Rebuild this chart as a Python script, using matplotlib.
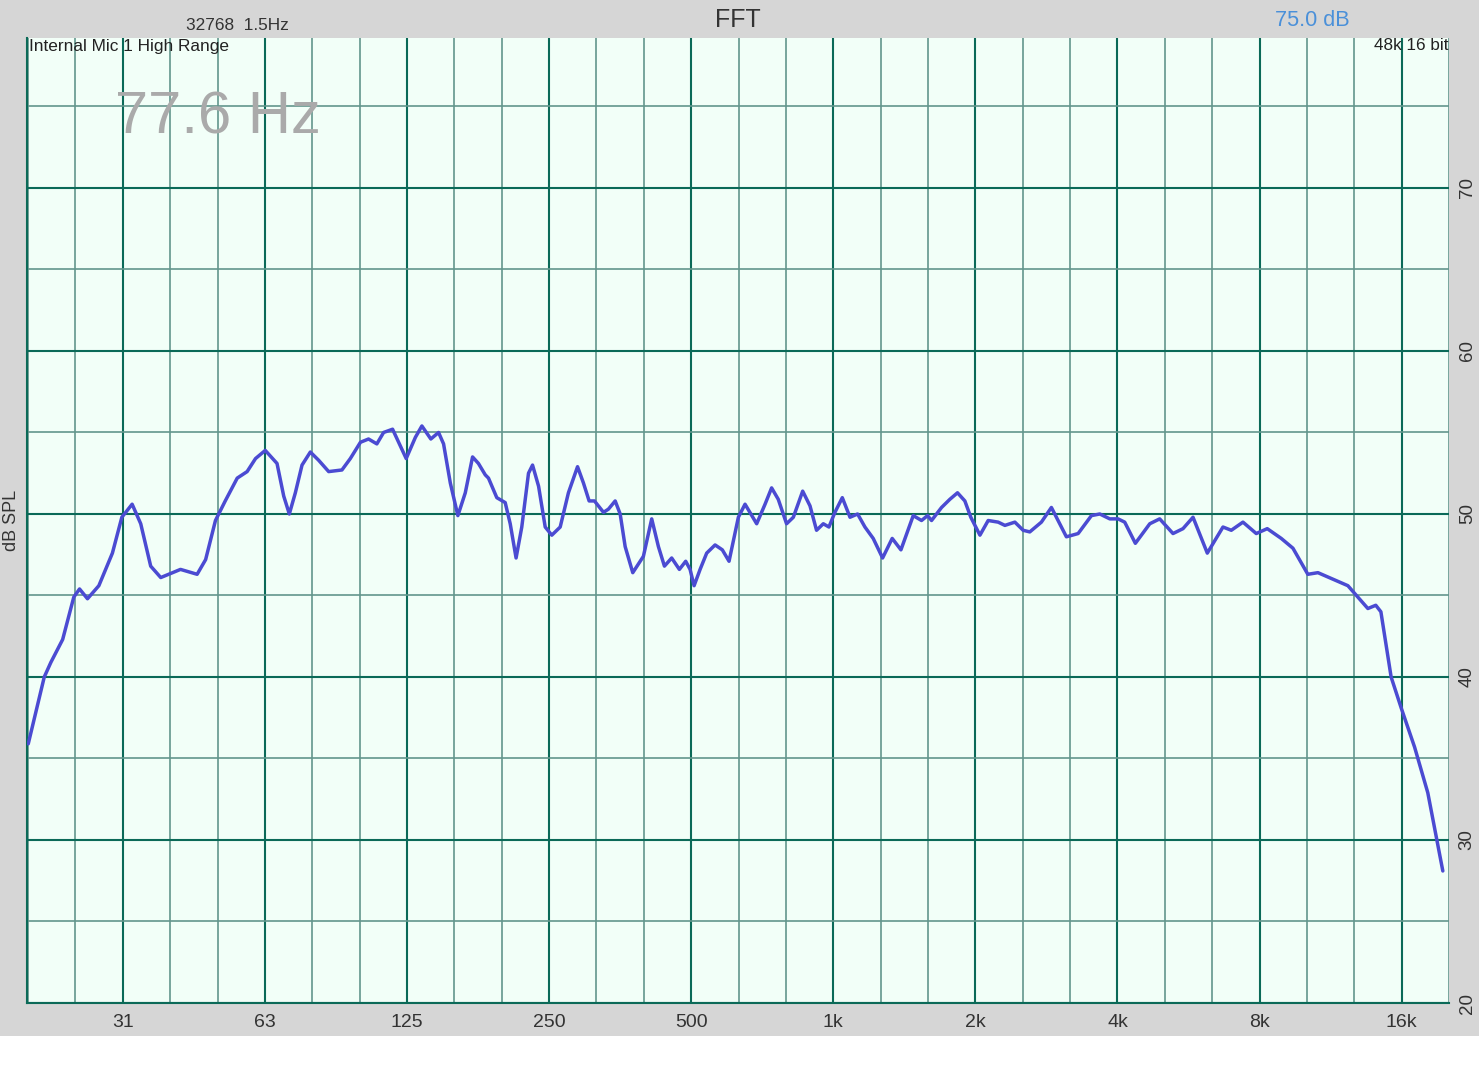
import numpy as np
import matplotlib
matplotlib.use("Agg")
import matplotlib.pyplot as plt
from matplotlib.patches import Rectangle

# ---------------- data ----------------
freq_hz = [19.7, 21.3, 22.0, 23.3, 24.6, 25.3, 26.3, 27.8, 29.7, 31.1,
           32.7, 34.1, 35.8, 37.6, 41.4, 44.9, 46.8, 49.1, 51.5, 54.6,
           57.3, 59.7, 62.6, 66.3, 68.5, 70.4, 72.5, 74.9, 78.0, 81.2,
           85.3, 91.0, 94.8, 99.6, 103.6, 107.9, 111.5, 116.5, 120.0, 124.5,
           130.2, 134.4, 140.4, 145.8, 149.4, 154.4, 160.2, 166.1, 172.1, 177.1,
           183.1, 186.0, 193.7, 201.8, 206.8, 212.8, 218.8, 226.1, 230.6, 237.5,
           245.3, 253.3, 263.9, 274.7, 287.2, 295.6, 303.9, 311.9, 326.0, 334.0,
           345.1, 353.6, 362.3, 376.0, 396.0, 412.4, 426.1, 438.8, 454.6, 472.0,
           486.8, 497.3, 507.1, 522.2, 539.3, 561.8, 582.0, 601.4, 629.4, 650.2,
           688.2, 716.9, 740.2, 764.6, 796.2, 823.0, 861.3, 892.6, 921.6, 952.4,
           979, 1008, 1045, 1085, 1126, 1167, 1215, 1272, 1333, 1391,
           1477, 1538, 1584, 1615, 1696, 1766, 1833, 1900, 1956, 2045,
           2129, 2235, 2310, 2425, 2525, 2608, 2760, 2898, 3118, 3302,
           3523, 3670, 3853, 4011, 4144, 4365, 4683, 4915, 5245, 5507,
           5783, 6200, 6693, 6970, 7378, 7873, 8306, 8894, 9415, 10125,
           10636, 11440, 12310, 12925, 13570, 14104, 14460, 15200, 15966, 17043,
           18177, 19560]
spl_db = [35.9, 40.0, 40.9, 42.3, 44.9, 45.4, 44.8, 45.6, 47.6, 49.8,
          50.6, 49.4, 46.8, 46.1, 46.6, 46.3, 47.2, 49.6, 50.8, 52.2,
          52.6, 53.4, 53.9, 53.1, 51.1, 50.0, 51.3, 53.0, 53.8, 53.3,
          52.6, 52.7, 53.4, 54.4, 54.6, 54.3, 55.0, 55.2, 54.4, 53.4,
          54.7, 55.4, 54.6, 55.0, 54.3, 51.9, 49.9, 51.3, 53.5, 53.1,
          52.4, 52.2, 51.0, 50.7, 49.4, 47.3, 49.2, 52.5, 53.0, 51.7,
          49.2, 48.7, 49.2, 51.3, 52.9, 51.9, 50.8, 50.8, 50.1, 50.3,
          50.8, 50.0, 48.0, 46.4, 47.4, 49.7, 48.0, 46.8, 47.3, 46.6,
          47.1, 46.6, 45.6, 46.6, 47.6, 48.1, 47.8, 47.1, 49.8, 50.6,
          49.4, 50.6, 51.6, 50.9, 49.4, 49.8, 51.4, 50.5, 49.0, 49.4,
          49.2, 50.1, 51.0, 49.8, 50.0, 49.2, 48.5, 47.3, 48.5, 47.8,
          49.9, 49.6, 49.9, 49.6, 50.4, 50.9, 51.3, 50.8, 49.8, 48.7,
          49.6, 49.5, 49.3, 49.5, 49.0, 48.9, 49.5, 50.4, 48.6, 48.8,
          49.9, 50.0, 49.7, 49.7, 49.5, 48.2, 49.4, 49.7, 48.8, 49.1,
          49.8, 47.6, 49.2, 49.0, 49.5, 48.8, 49.1, 48.5, 47.9, 46.3,
          46.4, 46.0, 45.6, 44.9, 44.2, 44.4, 44.0, 40.0, 38.1, 35.7,
          32.9, 28.1]

octave_ticks = [31.25, 62.5, 125, 250, 500, 1000, 2000, 4000, 8000, 16000]
octave_labels = ["31", "63", "125", "250", "500", "1k", "2k", "4k", "8k", "16k"]
third_octave_ticks = [1000 * 2 ** (k / 3) for k in range(-17, 14) if k % 3 != 0]
db_ticks = [20, 30, 40, 50, 60, 70]
db_minor = [25, 35, 45, 55, 65, 75]

# ---------------- style ----------------
FONT = "Liberation Sans"
plt.rcParams["font.family"] = [FONT, "DejaVu Sans"]
MAJOR = "#0b6a58"
MINOR = "#62968c"
BG = "#d6d6d6"
PLOT_BG = "#f2fff8"
LINE = "#4b4bd2"

W, H = 1479, 1080
fig = plt.figure(figsize=(W / 100, H / 100), dpi=100, facecolor=BG)
# white strip at the very bottom
fig.patches.append(Rectangle((0, 0), 1, 44 / H, transform=fig.transFigure,
                             facecolor="white", edgecolor="none", zorder=0))

left, right, top, bottom = 27, 1449, 38, 1003
ax = fig.add_axes([left / W, (H - bottom) / H, (right - left) / W, (bottom - top) / H])
ax.set_facecolor(PLOT_BG)
ax.set_xscale("log")
ax.set_xlim(19.58, 19920)
ax.set_ylim(20, 79.2)

ax.set_xticks(octave_ticks)
ax.set_xticklabels(octave_labels)
ax.set_xticks(third_octave_ticks, minor=True)
ax.xaxis.set_minor_formatter(matplotlib.ticker.NullFormatter())
ax.set_yticks(db_ticks)
ax.set_yticks(db_minor, minor=True)
ax.yaxis.tick_right()
ax.tick_params(axis="both", which="both", length=0)
ax.tick_params(axis="x", pad=8, labelsize=14, labelcolor="#333333")
ax.tick_params(axis="y", pad=7, labelsize=13.5, labelcolor="#333333")
for lab in ax.get_yticklabels():
    lab.set_rotation(90)
    lab.set_va("center")

ax.grid(True, which="major", color=MAJOR, linewidth=1.5)
ax.grid(True, which="minor", color=MINOR, linewidth=1.2)
ax.set_axisbelow(True)

for s in ["top", "right"]:
    ax.spines[s].set_visible(False)
for s in ["left", "bottom"]:
    ax.spines[s].set_color(MAJOR)
    ax.spines[s].set_linewidth(1.5)

ax.plot(freq_hz, spl_db, color=LINE, linewidth=2.5, solid_joinstyle="round",
        solid_capstyle="round", antialiased=True, zorder=3)

# ---------------- texts ----------------
fig.text(738 / W, 1 - 20 / H, "FFT", ha="center", va="center", fontsize=18, color="#333333")
fig.text(237 / W, 1 - 25 / H, "32768  1.5Hz", ha="center", va="center", fontsize=12.4,
         color="#333333")
fig.text(1312 / W, 1 - 20 / H, "75.0 dB", ha="center", va="center", fontsize=15.6,
         color="#4a90d9")
fig.text(12 / W, 1 - 520 / H, "dB SPL", ha="center", va="center", rotation=90,
         fontsize=13, color="#333333")
fig.text(29 / W, 1 - 46 / H, "Internal Mic 1 High Range", ha="left", va="center",
         fontsize=12.4, color="#222222")
fig.text(1448 / W, 1 - 46 / H, "48k 16 bit", ha="right", va="center",
         fontsize=12.3, color="#222222")
fig.text(218 / W, 1 - 118 / H, "77.6 Hz", ha="center", va="center", fontsize=43,
         color="#aaaaaa")

fig.savefig("out.png", dpi=100, facecolor=BG)
